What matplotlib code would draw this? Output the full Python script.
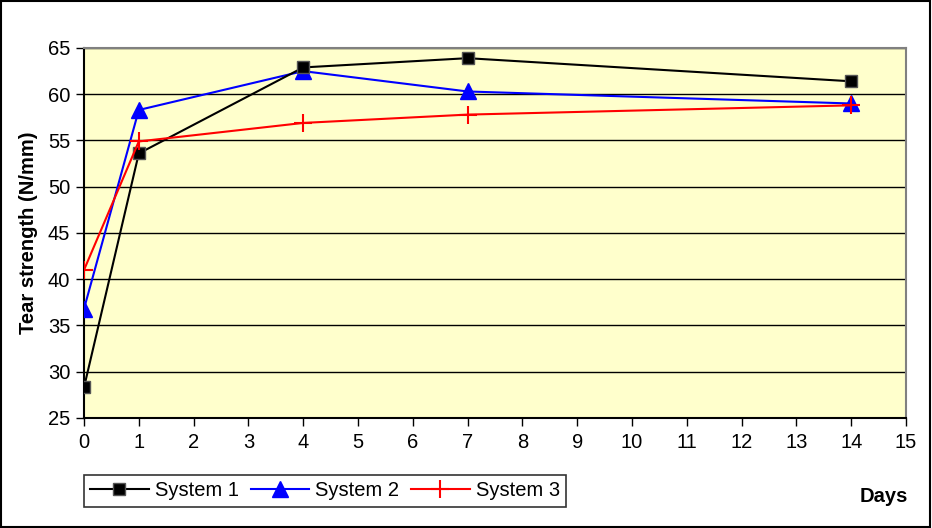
import matplotlib.pyplot as plt
from matplotlib.patches import Rectangle

# --- data ---
days = [0, 1, 4, 7, 14]
system1 = [28.3, 53.6, 62.9, 63.9, 61.4]
system2 = [36.8, 58.3, 62.5, 60.3, 59.0]
system3 = [41.0, 54.9, 56.9, 57.8, 58.8]
labels = ["System 1", "System 2", "System 3"]

plt.rcParams['font.family'] = ['Liberation Sans', 'DejaVu Sans']
FS = 14.5

fig = plt.figure(figsize=(9.32, 5.28), dpi=100)
ax = fig.add_axes([84 / 932, 1 - 418 / 528, 822 / 932, 370 / 528])
ax.set_facecolor('#FFFFCC')

ax.plot(days, system1, color='black', lw=1.5, marker='s', ms=9,
        mfc='black', mec='#555555', mew=1, label=labels[0], zorder=4)
ax.plot(days, system2, color='blue', lw=1.5, marker='^', ms=11,
        mfc='blue', mec='blue', label=labels[1], zorder=3)
ax.plot(days, system3, color='red', lw=1.5, marker='+', ms=13,
        mew=1.5, label=labels[2], zorder=5)

ax.set_xlim(0, 15)
ax.set_ylim(25, 65)
ax.set_xticks(range(0, 16))
ax.set_yticks(range(25, 66, 5))
ax.grid(axis='y', color='black', lw=1)
ax.set_axisbelow(True)
ax.tick_params(direction='out', length=6, width=1, labelsize=FS, colors='black')
ax.tick_params(axis='x', pad=5)
ax.tick_params(axis='y', pad=4)

for side in ('top', 'right'):
    ax.spines[side].set_color('#808080')
    ax.spines[side].set_linewidth(1.5)
for side in ('left', 'bottom'):
    ax.spines[side].set_color('black')
    ax.spines[side].set_linewidth(1.5)

ax.set_ylabel("Tear strength (N/mm)", fontsize=FS, fontweight='bold', labelpad=7)
fig.text(884 / 932, 1 - 497 / 528, "Days", fontsize=FS, fontweight='bold',
         ha='center', va='center')

leg = fig.legend(loc='center', bbox_to_anchor=(325 / 932, 1 - 491 / 528),
                 ncol=3, fontsize=FS, frameon=True, fancybox=False,
                 edgecolor='black', handlelength=2.9, handletextpad=0.3,
                 columnspacing=0.6, borderpad=0.3, borderaxespad=0)
leg.get_frame().set_linewidth(1.2)

# outer chart border
fig.patches.append(Rectangle((0.001, 0.002), 0.997, 0.996, transform=fig.transFigure,
                             fill=False, edgecolor='black', lw=1.5))

fig.savefig("out.png", dpi=100)
